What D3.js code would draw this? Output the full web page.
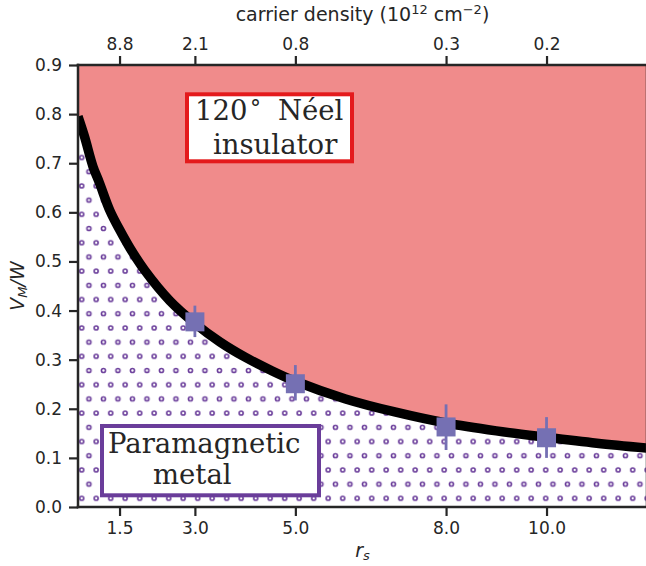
<!DOCTYPE html>
<html>
<head>
<meta charset="utf-8">
<script src="https://cdn.jsdelivr.net/npm/d3@7"></script>
<style>
  html, body { margin: 0; padding: 0; background: #fff; }
  svg { display: block; }
</style>
</head>
<body>
<svg id="chart" width="646" height="566"></svg>
<script>
// ---------------- data ----------------
const boundaryRs = [0.673, 0.8, 0.972, 1.1, 1.31, 1.5, 1.71, 2.0, 2.5, 3.0, 3.5, 4.0, 4.5, 5.0, 6.0, 7.0, 8.0, 9.0, 10.0, 11.0, 12.0];
const boundaryV  = [0.795, 0.755, 0.693, 0.660, 0.603, 0.565, 0.527, 0.482, 0.420, 0.374, 0.336, 0.305, 0.279, 0.256, 0.220, 0.193, 0.171, 0.155, 0.142, 0.130, 0.120];

const pointRs   = [3.0, 5.0, 8.0, 10.0];
const pointV    = [0.377, 0.251, 0.163, 0.141];
const pointLow  = [0.346, 0.217, 0.116, 0.100];
const pointHigh = [0.410, 0.289, 0.209, 0.183];

const xTicks = [1.5, 3.0, 5.0, 8.0, 10.0];
const xTickLabels = ["1.5", "3.0", "5.0", "8.0", "10.0"];
const topTickLabels = ["8.8", "2.1", "0.8", "0.3", "0.2"];
const yTicks = [0, 0.1, 0.2, 0.3, 0.4, 0.5, 0.6, 0.7, 0.8, 0.9];

const xDomain = [0.673, 12.0];
const yDomain = [0, 0.9];

// ---------------- layout ----------------
const L = 78, R = 647, T = 65, B = 507;
const textColor = "#262626";
const pink = "#f08b8b";
const purple = "#6a3d9a";
const red = "#e41a1c";
const markerColor = "#7570b3";

const svg = d3.select("#chart");
const x = d3.scaleLinear().domain(xDomain).range([L, R]);
const y = d3.scaleLinear().domain(yDomain).range([B, T]);

const defs = svg.append("defs");
defs.append("clipPath").attr("id", "plotclip")
  .append("rect").attr("x", L).attr("y", T).attr("width", R - L).attr("height", B - T);

// hatch of small circles (staggered rows)
const hx = 14.5, hy = 14.2;
const pat = defs.append("pattern").attr("id", "circhatch")
  .attr("patternUnits", "userSpaceOnUse")
  .attr("x", 81.7).attr("y", 498.3)
  .attr("width", hx).attr("height", hy * 2);
const circPos = [[0, 0], [hx, 0], [0, 2 * hy], [hx, 2 * hy], [hx / 2, hy]];
circPos.forEach(([cx, cy]) => {
  pat.append("circle").attr("cx", cx).attr("cy", cy).attr("r", 2.0)
    .attr("fill", "none").attr("stroke", purple).attr("stroke-width", 1.6);
});

const data = boundaryRs.map((r, i) => ({ r, v: boundaryV[i] }));
const plot = svg.append("g").attr("clip-path", "url(#plotclip)");
const curveType = d3.curveCatmullRom.alpha(0.5);

// insulator region (above boundary)
const areaAbove = d3.area().x(d => x(d.r)).y0(y(yDomain[1])).y1(d => y(d.v)).curve(curveType);
plot.append("path").datum(data).attr("d", areaAbove).attr("fill", pink);

// metal region (below boundary)
const areaBelow = d3.area().x(d => x(d.r)).y0(y(0)).y1(d => y(d.v)).curve(curveType);
plot.append("path").datum(data).attr("d", areaBelow).attr("fill", "#fff");
plot.append("path").datum(data).attr("d", areaBelow).attr("fill", "url(#circhatch)");

// boundary line
const line = d3.line().x(d => x(d.r)).y(d => y(d.v)).curve(curveType);
plot.append("path").datum(data).attr("d", line)
  .attr("fill", "none").attr("stroke", "#000").attr("stroke-width", 9.5);

// error bars & markers
const pts = pointRs.map((r, i) => ({ r, v: pointV[i], lo: pointLow[i], hi: pointHigh[i] }));
plot.selectAll("line.err").data(pts).enter().append("line")
  .attr("x1", d => x(d.r)).attr("x2", d => x(d.r))
  .attr("y1", d => y(d.lo)).attr("y2", d => y(d.hi))
  .attr("stroke", markerColor).attr("stroke-width", 2.8);
const ms = 19;
plot.selectAll("rect.mk").data(pts).enter().append("rect")
  .attr("x", d => x(d.r) - ms / 2).attr("y", d => y(d.v) - ms / 2)
  .attr("width", ms).attr("height", ms).attr("fill", markerColor);

// ---------------- text boxes ----------------
const serif = "'DejaVu Serif', serif";
svg.append("rect").attr("x", 187).attr("y", 94.3).attr("width", 165).attr("height", 67)
  .attr("fill", "#fff").attr("stroke", red).attr("stroke-width", 4);
const t1 = svg.append("text").attr("font-family", serif).attr("font-size", 27.5).attr("fill", textColor);
t1.append("tspan").attr("x", 195).attr("y", 120).text("120");
t1.append("tspan").attr("x", 250).attr("y", 116).attr("font-size", 22).text("°");
t1.append("tspan").attr("x", 278).attr("y", 120).text("Néel");
svg.append("text").attr("font-family", serif).attr("font-size", 27.5).attr("fill", textColor)
  .attr("x", 213).attr("y", 154).text("insulator");

svg.append("rect").attr("x", 102).attr("y", 426).attr("width", 217).attr("height", 69.3)
  .attr("fill", "#fff").attr("stroke", purple).attr("stroke-width", 4);
svg.append("text").attr("font-family", serif).attr("font-size", 27.5).attr("fill", textColor)
  .attr("x", 108).attr("y", 453).text("Paramagnetic");
svg.append("text").attr("font-family", serif).attr("font-size", 27.5).attr("fill", textColor)
  .attr("x", 153).attr("y", 484).text("metal");

// ---------------- axes ----------------
const sans = "'DejaVu Sans', sans-serif";
const tickLen = 9, tickW = 2.2, spineW = 2.5;

const xAxisB = d3.axisBottom(x).tickValues(xTicks).tickFormat((d, i) => xTickLabels[i])
  .tickSize(tickLen).tickPadding(6);
const gB = svg.append("g").attr("transform", `translate(0,${B})`).call(xAxisB);

const xAxisT = d3.axisTop(x).tickValues(xTicks).tickFormat((d, i) => topTickLabels[i])
  .tickSize(tickLen).tickPadding(6);
const gT = svg.append("g").attr("transform", `translate(0,${T})`).call(xAxisT);

const yAxisL = d3.axisLeft(y).tickValues(yTicks).tickFormat(d3.format(".1f"))
  .tickSize(tickLen).tickPadding(7);
const gL = svg.append("g").attr("transform", `translate(${L},0)`).call(yAxisL);

[gB, gT, gL].forEach(g => {
  g.select(".domain").remove();
  g.selectAll(".tick line").attr("stroke", textColor).attr("stroke-width", tickW);
  g.selectAll(".tick text").attr("fill", textColor).attr("font-family", sans).attr("font-size", 17);
});

// spines
const sp = svg.append("g").attr("stroke", textColor).attr("stroke-width", spineW).attr("fill", "none");
sp.append("line").attr("x1", L).attr("x2", L).attr("y1", T - spineW / 2).attr("y2", B + spineW / 2);
sp.append("line").attr("x1", L - spineW / 2).attr("x2", R + 2).attr("y1", B).attr("y2", B);
sp.append("line").attr("x1", L - spineW / 2).attr("x2", R + 2).attr("y1", T).attr("y2", T);
sp.append("line").attr("x1", R).attr("x2", R).attr("y1", T).attr("y2", B);

// axis labels
const xl = svg.append("text").attr("font-family", sans).attr("font-size", 19).attr("fill", textColor)
  .attr("text-anchor", "middle").attr("x", (L + R) / 2).attr("y", 557);
xl.append("tspan").attr("font-style", "italic").text("r");
xl.append("tspan").attr("font-style", "italic").attr("font-size", 13).attr("dy", 3).text("s");

const tl = svg.append("text").attr("font-family", sans).attr("font-size", 19).attr("fill", textColor)
  .attr("text-anchor", "middle").attr("x", (L + R) / 2).attr("y", 21);
tl.append("tspan").text("carrier density (10");
tl.append("tspan").attr("font-size", 13).attr("dy", -7).text("12");
tl.append("tspan").attr("dy", 7).text(" cm");
tl.append("tspan").attr("font-size", 13).attr("dy", -7).text("−2");
tl.append("tspan").attr("dy", 7).text(")");

const yl = svg.append("text").attr("font-family", sans).attr("font-size", 19).attr("fill", textColor)
  .attr("text-anchor", "middle")
  .attr("transform", `translate(24,${(T + B) / 2}) rotate(-90)`);
yl.append("tspan").attr("font-style", "italic").text("V");
yl.append("tspan").attr("font-style", "italic").attr("font-size", 13).attr("dy", 3).text("M");
yl.append("tspan").attr("font-style", "italic").attr("dy", -3).text("/W");
</script>
</body>
</html>
